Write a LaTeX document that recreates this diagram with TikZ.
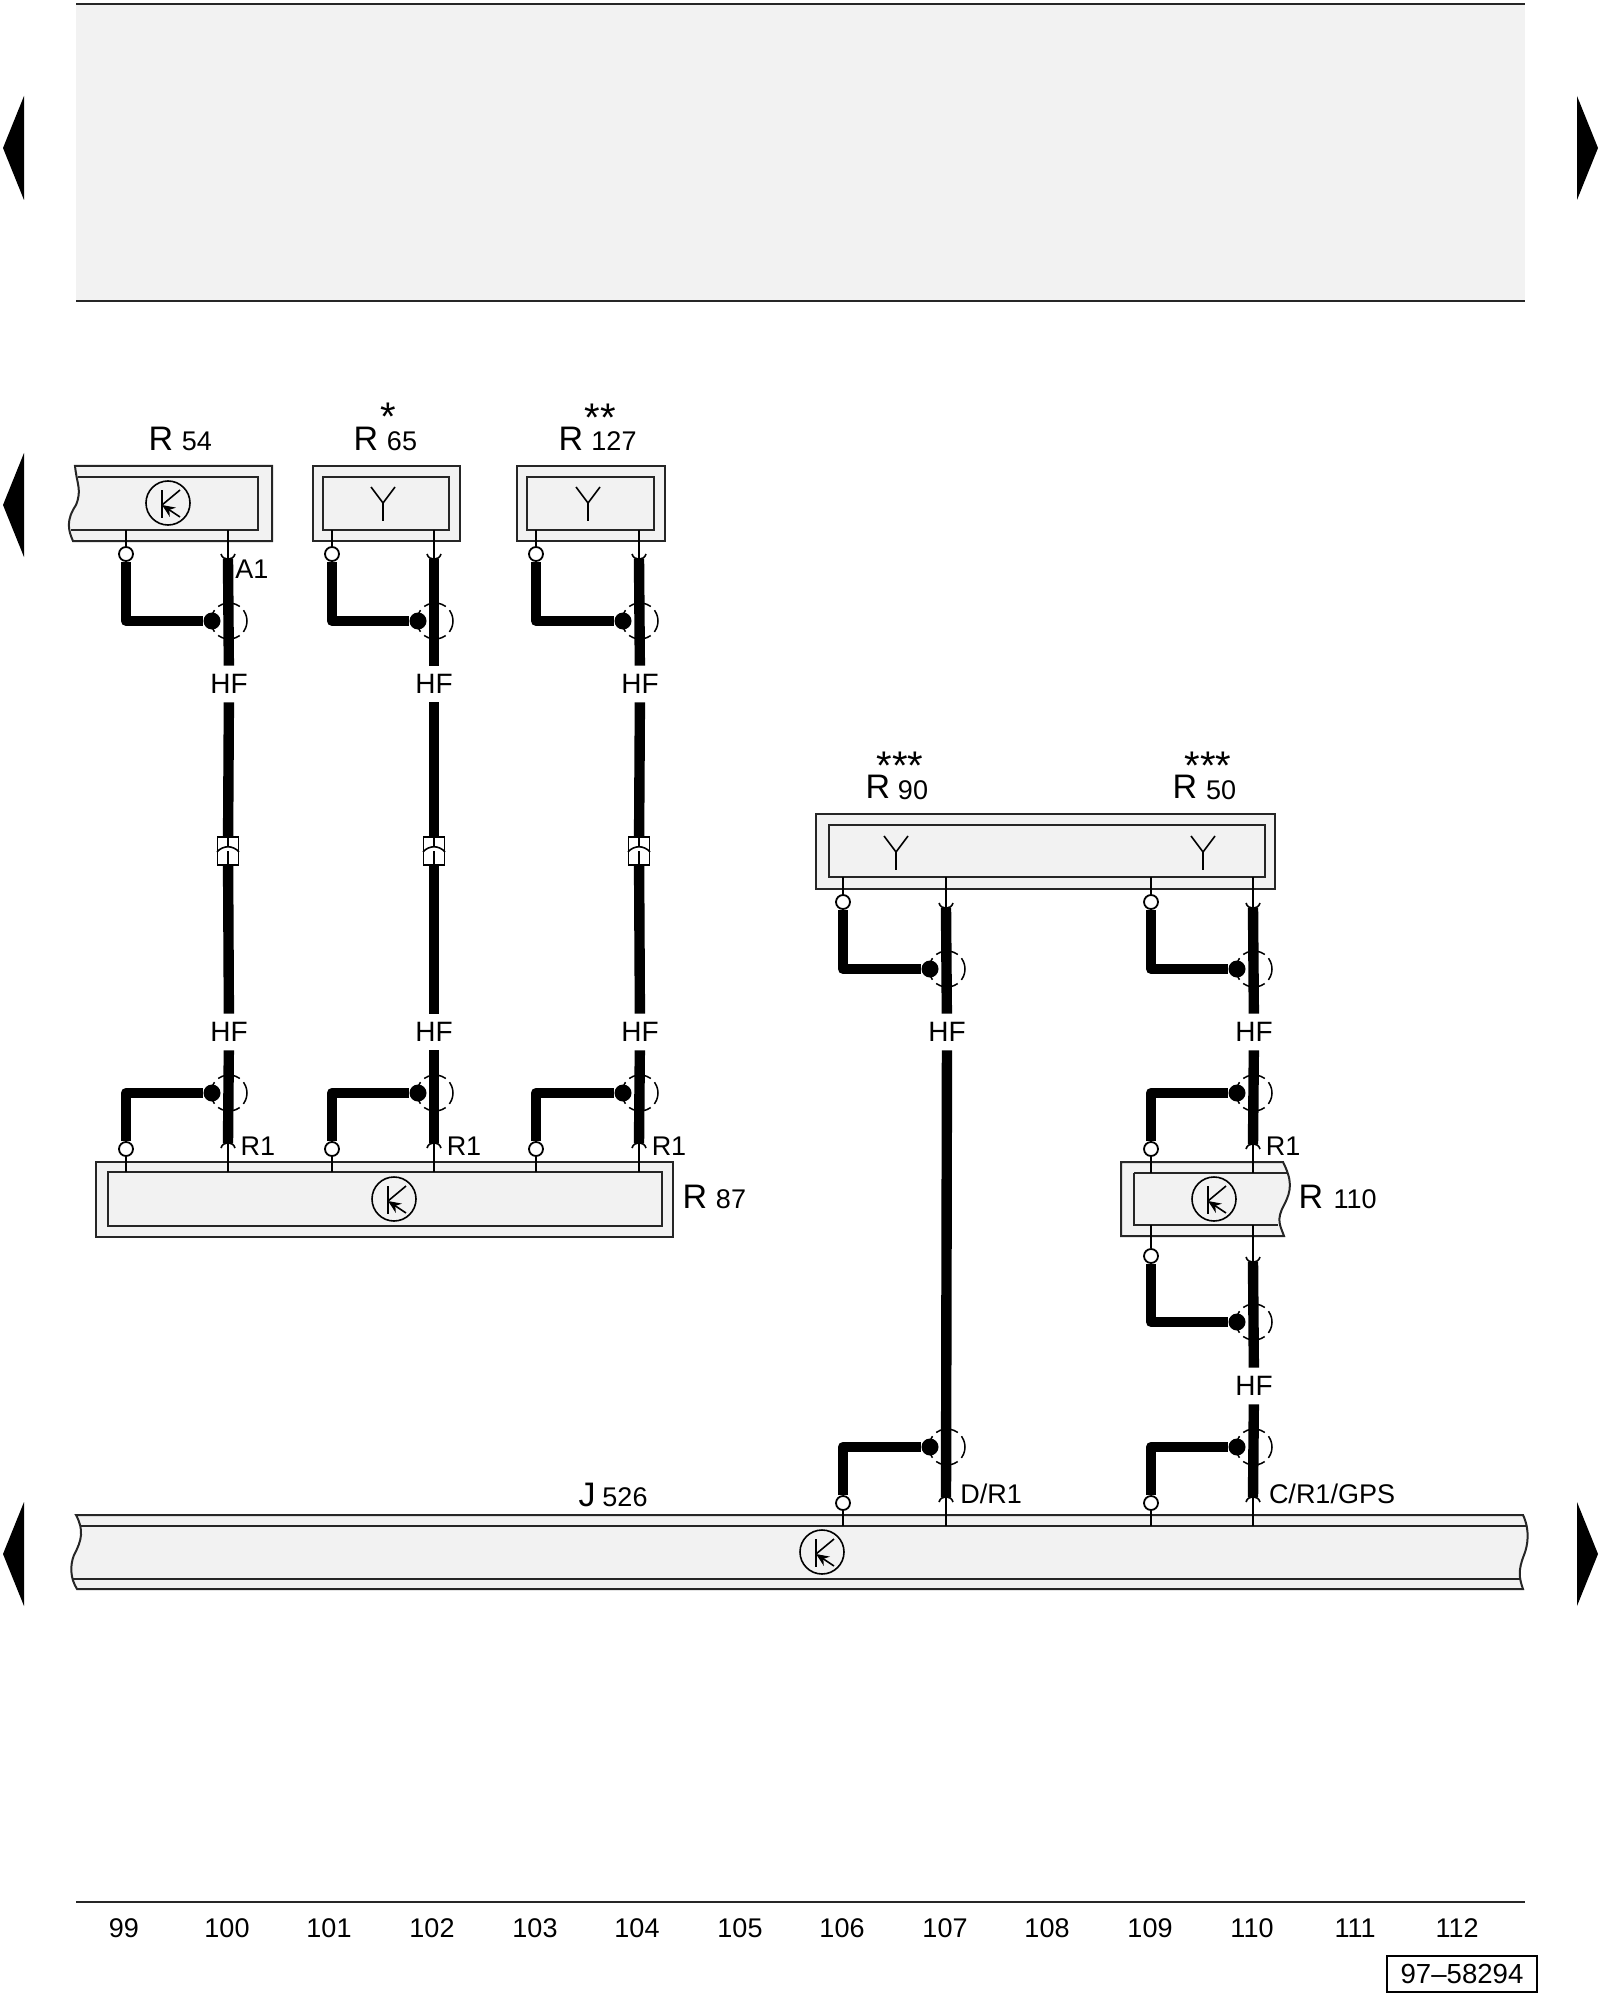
\documentclass[tikz,border=0pt]{standalone}
\usepackage{fontspec}
\setmainfont{Liberation Sans}
\usetikzlibrary{arrows.meta}
\definecolor{panelgray}{HTML}{F2F2F2}
\tikzset{
  housing/.style={draw=black!85,fill=panelgray,line width=1pt},
  rule/.style={draw=black!85,line width=1pt},
  wire/.style={line width=5.2pt,line join=round},
  lead/.style={line width=.8pt},
  pinhole/.style={circle,draw,fill=white,line width=.9pt,minimum size=7pt,inner sep=0pt},
  blob/.style={circle,fill=black,minimum size=8.5pt,inner sep=0pt},
  shield/.style={circle,draw,line width=.75pt,minimum size=18pt,inner sep=0pt,
    dash pattern=on 11.5pt off 2.6pt,dash phase=5.75pt},
  fusebox/.style={rectangle,draw,fill=white,line width=.8pt,minimum width=10.5pt,minimum height=14pt,inner sep=0pt},
  hflabel/.style={font=\fontsize{14}{14}\selectfont,minimum height=18pt,inner sep=0pt},
  namelabel/.style={font=\fontsize{17}{17}\selectfont,inner sep=0pt},
  numlabel/.style={font=\fontsize{13.5}{14}\selectfont,inner sep=0pt},
  pinlabel/.style={font=\fontsize{13.5}{14}\selectfont,inner sep=0pt},
  starlabel/.style={font=\fontsize{20}{20}\selectfont,inner sep=0pt},
  columnlabel/.style={font=\fontsize{13.5}{14}\selectfont,inner sep=0pt},
  tagbox/.style={rectangle,draw,line width=.9pt,font=\fontsize{13.8}{14}\selectfont,
    minimum width=75pt,minimum height=18pt,inner sep=0pt},
  transistor/.pic={
    \draw[line width=.8pt] (0,0) circle (22);
    \draw[line width=.8pt] (-6,-13) -- (-6,15);
    \draw[line width=.8pt] (-6,2) -- (12,-13);
    \draw[line width=.8pt,{Stealth[length=6.5pt,width=5.5pt]}-] (-6,2) -- (12,14);
  },
  antenna/.pic={
    \draw[line width=.8pt] (-12,-16) -- (0,0) -- (12,-16);
    \draw[line width=.8pt] (0,0) -- (0,18);
  },
  cupdown/.pic={
    \draw[line width=.8pt] (-7,-5) .. controls (-5,2) and (5,2) .. (7,-5);
  },
  cupup/.pic={
    \draw[line width=.8pt] (-7,5) .. controls (-5,-2) and (5,-2) .. (7,5);
  },
  fusemark/.pic={
    \draw[line width=.8pt] (0,-14) -- (0,-4);
    \draw[line width=.8pt] (0,0) -- (0,14);
    \draw[line width=.8pt] (-11,1) .. controls (-5,-6) and (5,-6) .. (11,1);
  }
}
\begin{document}
\begin{tikzpicture}[x=0.5pt,y=-0.5pt]
  \useasboundingbox (0,0) rectangle (1600,2000);

  \fill[panelgray] (76,4) rectangle (1525,301);
  \draw[rule] (76,4) -- (1525,4);
  \draw[rule] (76,301) -- (1525,301);
  \draw[rule] (76,1902) -- (1525,1902);

  \fill (24,96) -- (3,148) -- (24,200) -- cycle;
  \fill (24,453) -- (3,505) -- (24,557) -- cycle;
  \fill (24,1502) -- (3,1554) -- (24,1606) -- cycle;
  \fill (1577,96) -- (1598,148) -- (1577,200) -- cycle;
  \fill (1577,1502) -- (1598,1554) -- (1577,1606) -- cycle;

  \draw[housing] (75,466) .. controls (77,485) and (82,490) .. (76,505)
    .. controls (66,520) and (68,530) .. (73,541) -- (272,541) -- (272,466) -- cycle;
  \draw[rule] (78,477) -- (258,477) -- (258,530) -- (71,530);
  \draw[housing] (313,466) rectangle (460,541);
  \draw[rule] (323,477) rectangle (449,530);
  \draw[housing] (517,466) rectangle (665,541);
  \draw[rule] (527,477) rectangle (654,530);
  \draw[housing] (816,814) rectangle (1275,889);
  \draw[rule] (829,825) rectangle (1265,877);
  \draw[housing] (96,1162) rectangle (673,1237);
  \draw[rule] (108,1172) rectangle (662,1226);
  \draw[housing] (1121,1162) -- (1283,1162) .. controls (1292,1180) and (1292,1190) .. (1284,1205)
    .. controls (1276,1220) and (1280,1225) .. (1284,1236) -- (1121,1236) -- cycle;
  \draw[rule] (1134,1173) -- (1288,1173);
  \draw[rule] (1278,1225) -- (1134,1225) -- (1134,1173);
  \draw[housing] (76,1515) -- (1523,1515) .. controls (1530,1530) and (1528,1545) .. (1524,1555)
    .. controls (1518,1570) and (1519,1578) .. (1523,1589) -- (77,1589)
    .. controls (70,1578) and (70,1565) .. (74,1555) .. controls (82,1540) and (84,1530) .. (76,1515) -- cycle;
  \draw[rule] (80,1526) -- (1526,1526);
  \draw[rule] (72,1579) -- (1520,1579);

  \pic at (168,503) {transistor};
  \pic at (383,503) {antenna};
  \pic at (588,503) {antenna};
  \pic at (896,852) {antenna};
  \pic at (1203,852) {antenna};
  \pic at (394,1199) {transistor};
  \pic at (1214,1199) {transistor};
  \pic at (822,1552) {transistor};

  \node[shield] (as) at (229,621) {};
  \node[shield] (bs) at (435,621) {};
  \node[shield] (cs) at (640,621) {};
  \node[shield] (ds) at (229,1093) {};
  \node[shield] (es) at (435,1093) {};
  \node[shield] (fs) at (640,1093) {};
  \node[shield] (gs) at (947,969) {};
  \node[shield] (hs) at (1254,969) {};
  \node[shield] (is) at (1254,1093) {};
  \node[shield] (js) at (1254,1322) {};
  \node[shield] (ks) at (947,1447) {};
  \node[shield] (ls) at (1254,1447) {};

  \node[pinhole] (ap) at (126,554) {};
  \node[pinhole] (bp) at (332,554) {};
  \node[pinhole] (cp) at (536,554) {};
  \node[pinhole] (dp) at (126,1149) {};
  \node[pinhole] (ep) at (332,1149) {};
  \node[pinhole] (fp) at (536,1149) {};
  \node[pinhole] (gp) at (843,902) {};
  \node[pinhole] (hp) at (1151,902) {};
  \node[pinhole] (ip) at (1151,1149) {};
  \node[pinhole] (jp) at (1151,1256) {};
  \node[pinhole] (kp) at (843,1503) {};
  \node[pinhole] (lp) at (1151,1503) {};

  \node[blob] (ab) at (212,621) {};
  \node[blob] (bb) at (418,621) {};
  \node[blob] (cb) at (623,621) {};
  \node[blob] (db) at (212,1093) {};
  \node[blob] (eb) at (418,1093) {};
  \node[blob] (fb) at (623,1093) {};
  \node[blob] (gb) at (930,969) {};
  \node[blob] (hb) at (1237,969) {};
  \node[blob] (ib) at (1237,1093) {};
  \node[blob] (jb) at (1237,1322) {};
  \node[blob] (kb) at (930,1447) {};
  \node[blob] (lb) at (1237,1447) {};

  \coordinate (ac) at (126,621);
  \coordinate (bc) at (332,621);
  \coordinate (cc) at (536,621);
  \coordinate (dc) at (126,1093);
  \coordinate (ec) at (332,1093);
  \coordinate (fc) at (536,1093);
  \coordinate (gc) at (843,969);
  \coordinate (hc) at (1151,969);
  \coordinate (ic) at (1151,1093);
  \coordinate (jc) at (1151,1322);
  \coordinate (kc) at (843,1447);
  \coordinate (lc) at (1151,1447);

  \coordinate (au) at (228,559);
  \coordinate (bu) at (434,559);
  \coordinate (cu) at (639,559);
  \coordinate (du) at (228,1143);
  \coordinate (eu) at (434,1143);
  \coordinate (fu) at (639,1143);
  \coordinate (gu) at (946,908);
  \coordinate (hu) at (1253,908);
  \coordinate (iu) at (1253,1144);
  \coordinate (ju) at (1253,1262);
  \coordinate (ku) at (946,1497);
  \coordinate (lu) at (1253,1497);

  \node[hflabel] (ah) at (229,684) {HF};
  \node[hflabel] (bh) at (434,684) {HF};
  \node[hflabel] (ch) at (640,684) {HF};
  \node[hflabel] (dh) at (229,1032) {HF};
  \node[hflabel] (eh) at (434,1032) {HF};
  \node[hflabel] (fh) at (640,1032) {HF};
  \node[hflabel] (gh) at (947,1032) {HF};
  \node[hflabel] (hh) at (1254,1032) {HF};
  \node[hflabel] (jh) at (1254,1386) {HF};

  \node[fusebox] (af) at (228,851) {};
  \node[fusebox] (bf) at (434,851) {};
  \node[fusebox] (cf) at (639,851) {};
  \pic at (228,851) {fusemark};
  \pic at (434,851) {fusemark};
  \pic at (639,851) {fusemark};

  \begin{scope}[wire]
    \draw (ap) -- (ac) -- (ab);
    \draw (bp) -- (bc) -- (bb);
    \draw (cp) -- (cc) -- (cb);
    \draw (dp) -- (dc) -- (db);
    \draw (ep) -- (ec) -- (eb);
    \draw (fp) -- (fc) -- (fb);
    \draw (gp) -- (gc) -- (gb);
    \draw (hp) -- (hc) -- (hb);
    \draw (ip) -- (ic) -- (ib);
    \draw (jp) -- (jc) -- (jb);
    \draw (kp) -- (kc) -- (kb);
    \draw (lp) -- (lc) -- (lb);
    \draw (au) -- (ah);
    \draw (ah) -- (af);
    \draw (af) -- (dh);
    \draw (dh) -- (du);
    \draw (bu) -- (bh);
    \draw (bh) -- (bf);
    \draw (bf) -- (eh);
    \draw (eh) -- (eu);
    \draw (cu) -- (ch);
    \draw (ch) -- (cf);
    \draw (cf) -- (fh);
    \draw (fh) -- (fu);
    \draw (gu) -- (gh);
    \draw (gh) -- (ku);
    \draw (hu) -- (hh);
    \draw (hh) -- (iu);
    \draw (ju) -- (jh);
    \draw (jh) -- (lu);
  \end{scope}

  \pic at (au) {cupdown};
  \pic at (bu) {cupdown};
  \pic at (cu) {cupdown};
  \pic at (gu) {cupdown};
  \pic at (hu) {cupdown};
  \pic at (ju) {cupdown};
  \pic at (du) {cupup};
  \pic at (eu) {cupup};
  \pic at (fu) {cupup};
  \pic at (iu) {cupup};
  \pic at (ku) {cupup};
  \pic at (lu) {cupup};

  \coordinate (at) at (126,530);
  \coordinate (bt) at (332,530);
  \coordinate (ct) at (536,530);
  \coordinate (dt) at (126,1172);
  \coordinate (et) at (332,1172);
  \coordinate (ft) at (536,1172);
  \coordinate (gt) at (843,877);
  \coordinate (ht) at (1151,877);
  \coordinate (it) at (1151,1173);
  \coordinate (jt) at (1151,1225);
  \coordinate (kt) at (843,1526);
  \coordinate (lt) at (1151,1526);
  \coordinate (am) at (228,530);
  \coordinate (bm) at (434,530);
  \coordinate (cm) at (639,530);
  \coordinate (dm) at (228,1172);
  \coordinate (em) at (434,1172);
  \coordinate (fm) at (639,1172);
  \coordinate (gm) at (946,877);
  \coordinate (hm) at (1253,877);
  \coordinate (im) at (1253,1173);
  \coordinate (jm) at (1253,1225);
  \coordinate (km) at (946,1526);
  \coordinate (lm) at (1253,1526);

  \begin{scope}[lead]
    \draw (at) -- (ap);
    \draw (bt) -- (bp);
    \draw (ct) -- (cp);
    \draw (dt) -- (dp);
    \draw (et) -- (ep);
    \draw (ft) -- (fp);
    \draw (gt) -- (gp);
    \draw (ht) -- (hp);
    \draw (it) -- (ip);
    \draw (jt) -- (jp);
    \draw (kt) -- (kp);
    \draw (lt) -- (lp);
    \draw (am) -- (au);
    \draw (bm) -- (bu);
    \draw (cm) -- (cu);
    \draw (dm) -- (du);
    \draw (em) -- (eu);
    \draw (fm) -- (fu);
    \draw (gm) -- (gu);
    \draw (hm) -- (hu);
    \draw (im) -- (iu);
    \draw (jm) -- (ju);
    \draw (km) -- (ku);
    \draw (lm) -- (lu);
  \end{scope}

  \node[namelabel] (r54) at (161,439) {R};
  \node[numlabel] (r54n) at (197,441) {54};
  \node[namelabel] (r65) at (366,439) {R};
  \node[numlabel] (r65n) at (402,441) {65};
  \node[starlabel] (r65s) at (388,417) {*};
  \node[namelabel] (r127) at (571,439) {R};
  \node[numlabel] (r127n) at (614,441) {127};
  \node[starlabel] (r127s) at (600,418) {**};
  \node[namelabel] (r90) at (878,787) {R};
  \node[numlabel] (r90n) at (913,790) {90};
  \node[starlabel] (r90s) at (900,766) {***};
  \node[namelabel] (r50) at (1185,787) {R};
  \node[numlabel] (r50n) at (1221,790) {50};
  \node[starlabel] (r50s) at (1208,766) {***};
  \node[namelabel] (r87) at (695,1197) {R};
  \node[numlabel] (r87n) at (731,1199) {87};
  \node[namelabel] (r110) at (1311,1197) {R};
  \node[numlabel] (r110n) at (1355,1199) {110};
  \node[namelabel] (j526) at (587,1495) {J};
  \node[numlabel] (j526n) at (625,1497) {526};

  \node[pinlabel] (a1) at (252,569) {A1};
  \node[pinlabel] (r1a) at (258,1146) {R1};
  \node[pinlabel] (r1b) at (464,1146) {R1};
  \node[pinlabel] (r1c) at (669,1146) {R1};
  \node[pinlabel] (r1d) at (1283,1146) {R1};
  \node[pinlabel] (dr1) at (991,1494) {D/R1};
  \node[pinlabel] (cr1) at (1332,1494) {C/R1/GPS};

  \node[columnlabel] (c99) at (124,1928) {99};
  \node[columnlabel] (c100) at (227,1928) {100};
  \node[columnlabel] (c101) at (329,1928) {101};
  \node[columnlabel] (c102) at (432,1928) {102};
  \node[columnlabel] (c103) at (535,1928) {103};
  \node[columnlabel] (c104) at (637,1928) {104};
  \node[columnlabel] (c105) at (740,1928) {105};
  \node[columnlabel] (c106) at (842,1928) {106};
  \node[columnlabel] (c107) at (945,1928) {107};
  \node[columnlabel] (c108) at (1047,1928) {108};
  \node[columnlabel] (c109) at (1150,1928) {109};
  \node[columnlabel] (c110) at (1252,1928) {110};
  \node[columnlabel] (c111) at (1355,1928) {111};
  \node[columnlabel] (c112) at (1457,1928) {112};

  \node[tagbox] (tag) at (1462,1974) {97–58294\hspace{6pt}};
\end{tikzpicture}
\end{document}
